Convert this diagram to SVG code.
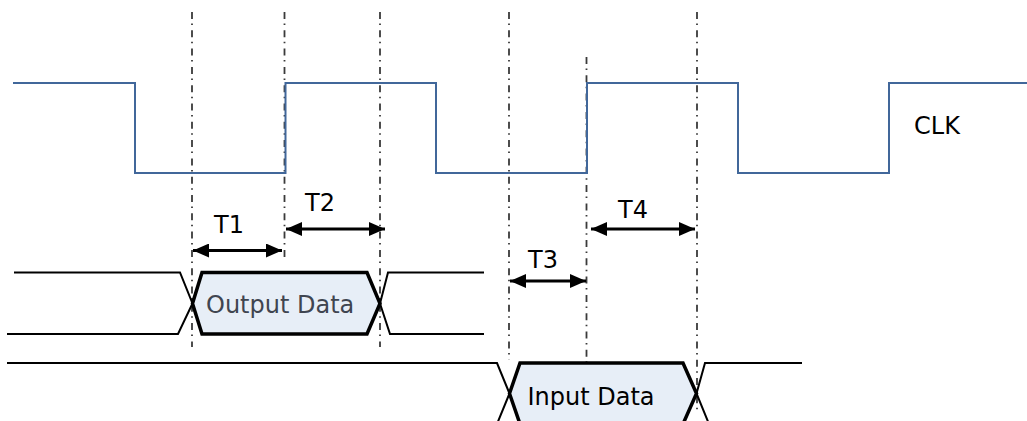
<svg xmlns="http://www.w3.org/2000/svg" width="1027" height="421" viewBox="0 0 1027 421">
<style>
.guide{fill:none;stroke:#3a3a3a;stroke-width:1.8;stroke-dasharray:7 4.5 1.5 5.3}
.clk{fill:none;stroke:#41679A;stroke-width:2}
.sig{fill:none;stroke:#000;stroke-width:2}
.hex{fill:#E7EEF7;stroke:#000;stroke-width:3.5;stroke-linejoin:miter}
.lbl{font-family:"DejaVu Sans",Verdana,sans-serif;font-size:24px;fill:#000}
.dim{fill:none;stroke:#000;stroke-width:3;marker-start:url(#ah);marker-end:url(#ah)}
</style>
<defs>
<marker id="ah" markerUnits="userSpaceOnUse" markerWidth="16" markerHeight="14" refX="16" refY="7" orient="auto-start-reverse" viewBox="0 0 16 14">
<path d="M0,0 L16,7 L0,14 Z" fill="#000"/>
</marker>
</defs>
<rect width="1027" height="421" fill="#fff"/>
<g id="guides">
<line class="guide" x1="192" y1="12" x2="192" y2="347"/>
<line class="guide" x1="284.5" y1="12" x2="284.5" y2="257"/>
<line class="guide" x1="380" y1="12" x2="380" y2="347"/>
<line class="guide" x1="509" y1="12" x2="509" y2="360"/>
<line class="guide" x1="586.5" y1="57" x2="586.5" y2="368"/>
<line class="guide" x1="697" y1="12" x2="697" y2="410"/>
</g>
<g id="clk">
<polyline class="clk" points="13,83 135,83 135,173 285.5,173 285.5,83 436,83 436,173 587,173 587,83 738,83 738,173 889,173 889,83 1027,83"/>
<text class="lbl" x="914" y="134">CLK</text>
</g>
<g id="output-data">
<polyline class="sig" points="14,272.5 180,272.5 192.5,303.5 178,334 7,334"/>
<polyline class="sig" points="484,272.5 388,272.5 380,303.5 390,334 484,334"/>
<polygon class="hex" points="202,272.5 367,272.5 380,303.5 367,334 202,334 192.5,303.5"/>
<text class="lbl" x="206" y="313" style="fill:#3F4550">Output Data</text>
</g>
<g id="input-data">
<polyline class="sig" points="7,363 497,363 509.5,393.5 497,424"/>
<polyline class="sig" points="802,363 705,363 696.5,393.5 709,424"/>
<polygon class="hex" points="520,363 683,363 696.5,393.5 683,424 520,424 509.5,393.5"/>
<text class="lbl" x="527.5" y="405">Input Data</text>
</g>
<g id="connectors">
<line class="dim" x1="193" y1="250.5" x2="282" y2="250.5"/>
<line class="dim" x1="286" y1="229" x2="385" y2="229"/>
<line class="dim" x1="510" y1="281" x2="586" y2="281"/>
<line class="dim" x1="591" y1="229" x2="695" y2="229"/>
</g>
<g id="labels">
<text class="lbl" x="214" y="233">T1</text>
<text class="lbl" x="305" y="211">T2</text>
<text class="lbl" x="528" y="268">T3</text>
<text class="lbl" x="618" y="218">T4</text>
</g>
</svg>
